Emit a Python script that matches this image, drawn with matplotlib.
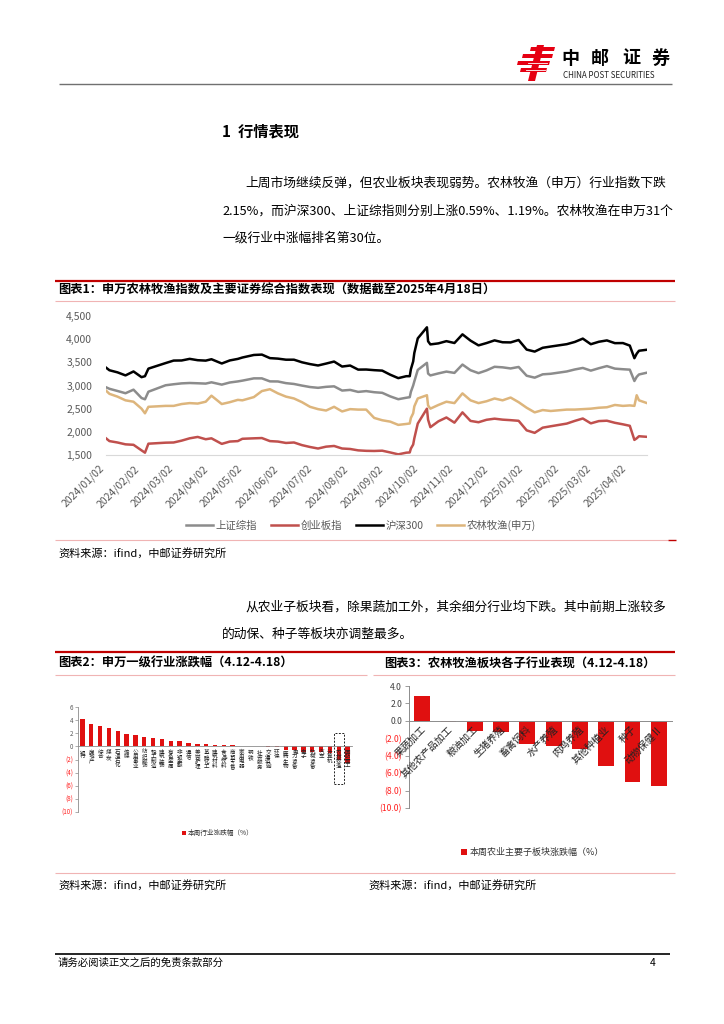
import matplotlib
matplotlib.use("Agg")
import matplotlib.pyplot as plt
from matplotlib.patches import Polygon, Rectangle
import pandas as pd

plt.rcParams['font.family'] = ['Noto Sans CJK SC', 'DejaVu Sans']

# ---- chart 1: index levels (roughly weekly) ----
dates = [
    '2024-01-02', '2024-01-05', '2024-01-12', '2024-01-19', '2024-01-26', '2024-02-02', '2024-02-05', '2024-02-08',
    '2024-02-23', '2024-03-01', '2024-03-08', '2024-03-15', '2024-03-22', '2024-03-29', '2024-04-03', '2024-04-12',
    '2024-04-19', '2024-04-26', '2024-04-30', '2024-05-10', '2024-05-17', '2024-05-24', '2024-05-31', '2024-06-07',
    '2024-06-14', '2024-06-21', '2024-06-28', '2024-07-05', '2024-07-12', '2024-07-19', '2024-07-26', '2024-08-02',
    '2024-08-09', '2024-08-16', '2024-08-23', '2024-08-30', '2024-09-06', '2024-09-13', '2024-09-20', '2024-09-23',
    '2024-09-24', '2024-09-26', '2024-09-27', '2024-09-30', '2024-10-08', '2024-10-09', '2024-10-11', '2024-10-18',
    '2024-10-25', '2024-11-01', '2024-11-08', '2024-11-15', '2024-11-22', '2024-11-29', '2024-12-06', '2024-12-13',
    '2024-12-20', '2024-12-27', '2025-01-03', '2025-01-10', '2025-01-17', '2025-01-24', '2025-02-07', '2025-02-14',
    '2025-02-21', '2025-02-28', '2025-03-07', '2025-03-14', '2025-03-21', '2025-03-28', '2025-04-03', '2025-04-07',
    '2025-04-09', '2025-04-11', '2025-04-18']

sh_comp = [2962, 2929, 2882, 2833, 2910, 2730, 2702, 2866,
           3005, 3027, 3046, 3054, 3048, 3041, 3069, 3019,
           3065, 3088, 3105, 3154, 3154, 3089, 3087, 3051,
           3033, 2998, 2967, 2950, 2971, 2982, 2891, 2905,
           2862, 2879, 2855, 2842, 2765, 2704, 2736, 2748,
           2864, 3000, 3088, 3336, 3489, 3258, 3217, 3261,
           3300, 3272, 3452, 3330, 3267, 3326, 3404, 3392,
           3368, 3400, 3211, 3169, 3241, 3253, 3303, 3346,
           3379, 3321, 3373, 3419, 3364, 3351, 3342, 3097,
           3186, 3238, 3277]

chinext = [1860, 1800, 1770, 1730, 1720, 1600, 1550, 1744,
           1766, 1770, 1810, 1860, 1890, 1840, 1860, 1740,
           1790, 1800, 1850, 1860, 1866, 1800, 1790, 1760,
           1770, 1713, 1673, 1640, 1680, 1695, 1640, 1630,
           1600, 1590, 1587, 1593, 1555, 1514, 1550, 1555,
           1640, 1726, 1860, 2179, 2500, 2262, 2100, 2227,
           2310, 2198, 2420, 2236, 2207, 2260, 2284, 2263,
           2252, 2238, 2032, 1978, 2090, 2120, 2178, 2236,
           2288, 2183, 2232, 2240, 2195, 2162, 2130, 1826,
           1860, 1905, 1892]

hs300 = [3386, 3329, 3284, 3218, 3303, 3180, 3201, 3364,
         3484, 3538, 3540, 3575, 3546, 3537, 3567, 3475,
         3541, 3574, 3604, 3659, 3667, 3591, 3580, 3557,
         3557, 3501, 3462, 3432, 3473, 3517, 3409, 3431,
         3343, 3345, 3331, 3321, 3233, 3159, 3201, 3201,
         3351, 3519, 3703, 4017, 4256, 3955, 3887, 3909,
         3957, 3917, 4104, 3969, 3866, 3916, 3974, 3933,
         3930, 3982, 3775, 3732, 3814, 3841, 3892, 3940,
         4012, 3891, 3944, 3973, 3914, 3916, 3861, 3589,
         3686, 3750, 3772]

agri_idx = [2890, 2820, 2760, 2680, 2650, 2500, 2400, 2540,
            2560, 2560, 2600, 2620, 2610, 2650, 2780, 2600,
            2640, 2690, 2680, 2750, 2880, 2920, 2830, 2760,
            2720, 2640, 2540, 2490, 2460, 2540, 2440, 2490,
            2480, 2480, 2300, 2250, 2220, 2150, 2170, 2180,
            2300, 2400, 2550, 2720, 2790, 2570, 2500, 2580,
            2650, 2620, 2830, 2680, 2620, 2660, 2720, 2680,
            2740, 2640, 2520, 2420, 2470, 2450, 2480, 2480,
            2490, 2500, 2520, 2530, 2580, 2560, 2570, 2560,
            2790, 2680, 2620]

series_names = ['上证综指', '创业板指', '沪深300', '农林牧渔(申万)']
month_ticks = ['2024/01/02', '2024/02/02', '2024/03/02', '2024/04/02', '2024/05/02', '2024/06/02',
               '2024/07/02', '2024/08/02', '2024/09/02', '2024/10/02', '2024/11/02', '2024/12/02',
               '2025/01/02', '2025/02/02', '2025/03/02', '2025/04/02']

# ---- chart 2: SW level-1 industries, weekly change (%) ----
sw_names = ['银行', '房地产', '综合', '煤炭', '石油石化', '传媒', '公用事业', '纺织服饰', '轻工制造',
            '建筑装饰', '有色金属', '非银金融', '通信', '美容护理', '基础化工', '建筑材料', '食品饮料',
            '商贸零售', '家用电器', '钢铁', '社会服务', '交通运输', '环保', '医药生物', '电力设备',
            '电子', '机械设备', '汽车', '计算机', '农林牧渔', '国防军工']
sw_chg = [4.1, 3.4, 3.1, 2.8, 2.3, 1.9, 1.8, 1.5, 1.3,
          1.2, 0.85, 0.8, 0.5, 0.4, 0.3, 0.25, 0.25,
          0.25, 0.1, 0.05, 0.0, -0.02, -0.05, -0.5, -0.5,
          -0.9, -0.9, -0.9, -1.0, -2.15, -2.6]

# ---- chart 3: agriculture sub-sectors, weekly change (%) ----
agri_names = ['果蔬加工', '其他农产品加工', '粮油加工', '生猪养殖', '畜禽饲料', '水产养殖',
              '肉鸡养殖', '其他种植业', '种子', '动物保健Ⅱ']
agri_chg = [2.8, -0.15, -1.2, -1.3, -2.7, -2.9, -3.2, -5.2, -7.0, -7.5]

RED = '#c00000'
PINK = '#f0b4b4'
BAR = '#e01010'
GREY_TXT = '#595959'

W, H = 724, 1024
fig = plt.figure(figsize=(W / 100, H / 100), dpi=100)

# full-page layer in pixel coordinates (y down)
bg = fig.add_axes([0, 0, 1, 1])
bg.set_xlim(0, W)
bg.set_ylim(H, 0)
bg.axis('off')


def hline(y, x0, x1, color, lw):
    bg.plot([x0, x1], [y, y], color=color, lw=lw, solid_capstyle='butt')


def txt(x, y, s, size, **kw):
    kw.setdefault('va', 'center')
    bg.text(x, y, s, fontsize=size, **kw)


def px_axes(l, t, r, b):
    ax = fig.add_axes([l / W, 1 - b / H, (r - l) / W, (b - t) / H])
    ax.set_facecolor('none')
    return ax


# header / logo
for pts in [[(531, 47), (555, 47), (554, 51), (530, 51)],
            [(523, 54), (553, 54), (552, 58), (522, 58)],
            [(518, 61), (550, 61), (549, 65), (517, 65)],
            [(521, 68), (547, 68), (546, 72), (520, 72)],
            [(537, 45), (544, 45), (535, 81), (528, 81)]]:
    bg.add_patch(Polygon(pts, closed=True, color='#e60012', lw=0))
for xs, ys in [((528, 547), 61), ((526, 545), 68)]:
    bg.plot(xs, [ys + 2, ys + 2], color='white', lw=0.6)
for cx, ch in zip([570, 600, 631, 661], '中邮证券'):
    txt(cx, 58, ch, 13, ha='center', fontweight='bold')
txt(563, 75, 'CHINA POST SECURITIES', 5.8, color='#222222')
hline(84, 59, 672, '#707070', 1.0)

# section heading and paragraph
txt(222, 131, '1  行情表现', 11, fontweight='bold')
txt(245, 183, '上周市场继续反弹，但农业板块表现弱势。农林牧渔（申万）行业指数下跌', 9.2)
txt(222, 211, '2.15%，而沪深300、上证综指则分别上涨0.59%、1.19%。农林牧渔在申万31个', 9.2)
txt(222, 238, '一级行业中涨幅排名第30位。', 9.2)

# chart 1 frame
hline(281, 55, 675, RED, 1.6)
txt(58, 290, '图表1：申万农林牧渔指数及主要证券综合指数表现（数据截至2025年4月18日）', 8.8,
    fontweight='bold')
hline(301, 55, 675, PINK, 0.8)

ax1 = px_axes(106, 316, 647, 455)
x = pd.to_datetime(dates)
colors = ['#8c8c8c', '#c0504d', '#000000', '#ddb57c']
for vals, c, name in zip([sh_comp, chinext, hs300, agri_idx], colors, series_names):
    ax1.plot(x, vals, color=c, lw=1.8, label=name)
ax1.set_xlim(x[0], x[-1])
ax1.set_ylim(1500, 4500)
ax1.set_yticks(range(1500, 4501, 500))
ax1.set_yticklabels([f'{v:,}' for v in range(1500, 4501, 500)])
ax1.set_xticks(pd.to_datetime(month_ticks, format='%Y/%m/%d'))
ax1.set_xticklabels(month_ticks, rotation=45, ha='right')
for s in ['top', 'right', 'left']:
    ax1.spines[s].set_visible(False)
ax1.spines['bottom'].set_color('#d9d9d9')
ax1.tick_params(length=0, labelsize=7.5, labelcolor=GREY_TXT)
ax1.tick_params(axis='y', pad=10)
ax1.tick_params(axis='x', pad=6)
ax1.legend(loc='center', bbox_to_anchor=(361 / W, 1 - 525 / H), bbox_transform=fig.transFigure,
           ncol=4, frameon=False, fontsize=7.5, handlelength=2.6, columnspacing=1.3,
           handletextpad=0.25, labelcolor=GREY_TXT)

hline(540, 55, 668, PINK, 0.8)
hline(540, 668, 676, RED, 1.0)
txt(58, 553, '资料来源：ifind，中邮证券研究所', 8)

# second paragraph
txt(245, 607, '从农业子板块看，除果蔬加工外，其余细分行业均下跌。其中前期上涨较多', 9.2)
txt(222, 634, '的动保、种子等板块亦调整最多。', 9.2)

hline(652, 55, 675, RED, 1.6)
txt(58, 663, '图表2：申万一级行业涨跌幅（4.12-4.18）', 8.8, fontweight='bold')
txt(384, 663, '图表3：农林牧渔板块各子行业表现（4.12-4.18）', 8.8, fontweight='bold')
hline(675, 55, 367, PINK, 0.8)
hline(675, 373, 675, PINK, 0.8)

# chart 2
ax2 = px_axes(78, 707, 352, 812)
pos2 = range(len(sw_names))
ax2.bar(pos2, sw_chg, width=0.5, color=BAR)
ax2.set_xlim(-0.5, len(sw_names) - 0.5)
ax2.set_ylim(-10, 6)
ticks2 = list(range(-10, 7, 2))
ax2.set_yticks(ticks2)
ax2.set_yticklabels([str(t) if t >= 0 else f'({-t})' for t in ticks2])
for lab, t in zip(ax2.get_yticklabels(), ticks2):
    lab.set_color('#ff2020' if t < 0 else GREY_TXT)
ax2.set_xticks([])
ax2.spines['bottom'].set_position(('data', 0))
for s in ['top', 'right']:
    ax2.spines[s].set_visible(False)
for s in ['left', 'bottom']:
    ax2.spines[s].set_color('#8c8c8c')
    ax2.spines[s].set_linewidth(0.6)
ax2.tick_params(axis='y', length=2, width=0.5, color='#8c8c8c', labelsize=4.5, pad=1.5)
for i, name in enumerate(sw_names):
    ax2.annotate('\n'.join(name), xy=(i, 0), xytext=(0, -2.5), textcoords='offset points',
                 ha='center', va='top', fontsize=4.0, linespacing=0.88, color='#222222')
ax2.add_patch(Rectangle((28.43, -5.8), 1.14, 7.9, fill=False, ls=(0, (2, 1.5)), lw=0.7,
                        ec='#222222', clip_on=False))
bg.add_patch(Rectangle((182, 830.5), 4, 4, color=BAR, lw=0))
txt(188, 833, '本周行业涨跌幅（%）', 4.8, color='#333333')

# chart 3
ax3 = px_axes(409, 686, 672, 808)
pos3 = range(len(agri_names))
ax3.bar(pos3, agri_chg, width=0.6, color=BAR)
ax3.set_xlim(-0.5, len(agri_names) - 0.5)
ax3.set_ylim(-10, 4)
ticks3 = list(range(-10, 5, 2))
ax3.set_yticks(ticks3)
ax3.set_yticklabels([f'{t:.1f}' if t >= 0 else f'({-t:.1f})' for t in ticks3])
for lab, t in zip(ax3.get_yticklabels(), ticks3):
    lab.set_color('#ff2020' if t < 0 else '#404040')
ax3.set_xticks([])
ax3.spines['bottom'].set_position(('data', 0))
for s in ['top', 'right']:
    ax3.spines[s].set_visible(False)
for s in ['left', 'bottom']:
    ax3.spines[s].set_color('#8c8c8c')
    ax3.spines[s].set_linewidth(0.7)
ax3.tick_params(axis='y', length=3, width=0.6, color='#8c8c8c', labelsize=6.2, pad=2)
for i, name in enumerate(agri_names):
    ax3.annotate(name, xy=(i, 0), xytext=(4, -2.5), textcoords='offset points',
                 ha='right', va='top', rotation=45, fontsize=7, color='#222222')
bg.add_patch(Rectangle((461, 849), 6, 6, color=BAR, lw=0))
txt(470, 852, '本周农业主要子板块涨跌幅（%）', 6.5, color='#333333')

hline(873, 55, 675, PINK, 0.8)
txt(58, 885, '资料来源：ifind，中邮证券研究所', 8)
txt(368, 885, '资料来源：ifind，中邮证券研究所', 8)

# page footer
hline(954, 55, 670, '#000000', 1.2)
txt(58, 963, '请务必阅读正文之后的免责条款部分', 7.5)
txt(650, 963, '4', 7.5)

fig.savefig('out.png', dpi=100)
